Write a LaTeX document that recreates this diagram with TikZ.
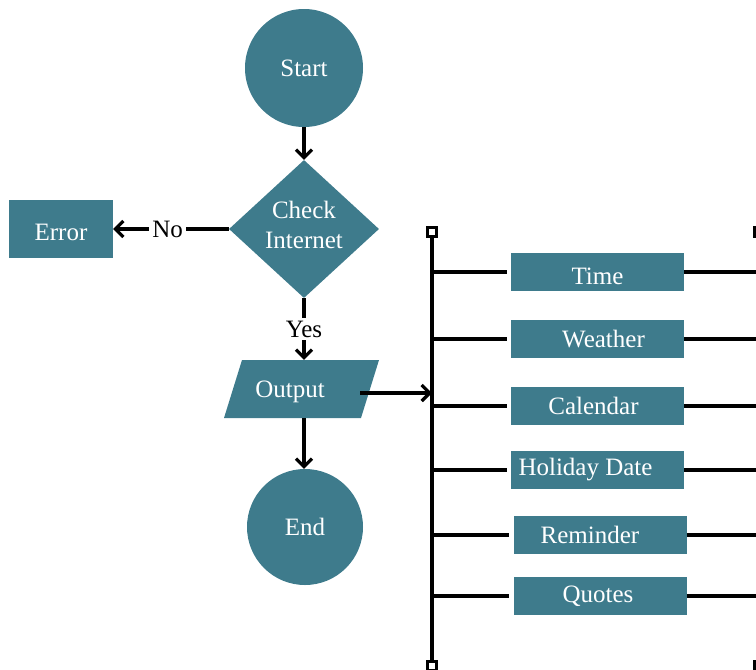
\documentclass[tikz,border=0pt]{standalone}
\usepackage{fontspec}
\setmainfont{Liberation Serif}
\usetikzlibrary{shapes.geometric,arrows.meta}
\definecolor{tealc}{RGB}{62,123,140}
\begin{document}
\begin{tikzpicture}[x=1pt,y=-1pt,
  lw/.style={line width=3.2pt,draw=black},
  arr/.style={lw,-{Straight Barb[length=8pt,width=16pt]}},
  txt/.style={text=white,font=\fontsize{25}{30}\selectfont,inner sep=0pt},
  shp/.style={fill=tealc,txt},
  circ/.style={shp,circle,minimum size=118pt},
  box/.style={shp,rectangle,minimum width=173pt,minimum height=38pt},
  lbl/.style={fill=white,text=black,font=\fontsize{25}{30}\selectfont,inner sep=3pt},
  sq/.style={draw=black,line width=3pt,fill=white,minimum size=9pt,inner sep=0pt,rectangle}
]
\useasboundingbox (0,0) rectangle (756,670);

% left column
\node[circ] (start) at (304,68) {Start};
\node[fill=tealc,diamond,minimum width=150pt,minimum height=138pt,inner sep=0pt] (chk) at (304,229) {};
\node[txt,align=center] (chklbl) at (304,225) {Check\\Internet};
\node[shp,rectangle,minimum width=104pt,minimum height=58pt] (err) at (61,229) {\raisebox{-3pt}[\height][0pt]{Error}};
\node[inner sep=0pt,minimum width=137pt,minimum height=58pt] (out) at (304,389) {};
\fill[tealc] (242,360) -- (379,360) -- (361,418) -- (224,418) -- cycle;
\node[txt] (outlbl) at (290,392) {Output};
\node[circ,minimum size=116pt] (end) at (305,527) {End};

\draw[arr] (start) -- (chk);
\draw[arr] (chk.west) -- node[lbl,pos=0.53] (no) {No} (err.east);
\draw[arr] (chk.south) -- node[lbl] (yes) {Yes} (out.north);
\draw[arr] (out.south) -- (out.south |- end.north);

% buses
\coordinate (lbtop) at (432,232);
\coordinate (lbbot) at (432,666);
\coordinate (rbtop) at (759,232);
\coordinate (rbbot) at (759,666);
\draw[lw] (lbtop) -- (lbbot);
\draw[lw] (rbtop) -- (rbbot);
\node[sq] (lsq1) at (lbtop) {};
\node[sq] (lsq2) at (lbbot) {};
\node[sq] (rsq1) at (rbtop) {};
\node[sq] (rsq2) at (rbbot) {};

\coordinate (outR) at (360,393);
\draw[arr] (outR) -- (outR -| lbtop);

% feature boxes
\node[box] (time) at (597.5,272) {\raisebox{-4pt}[\height][0pt]{Time}};
\node[box] (weather) at (597.5,339) {\hspace*{12pt}Weather};
\node[box] (cal) at (597.5,406) {Calendar\hspace*{8pt}};
\node[box] (hol) at (597.5,470) {Holiday Date\hspace*{24pt}};
\node[box] (rem) at (600,535) {Reminder\hspace*{20pt}};
\node[box] (quo) at (600,596) {Quotes\hspace*{4pt}};

\foreach \b in {time,weather,cal,hol,rem,quo}{
  \draw[lw] (\b.west -| lbtop) -- ([xshift=-4pt]\b.west);
  \draw[lw] (\b.east) -- (\b.east -| rbtop);
}
\end{tikzpicture}
\end{document}
